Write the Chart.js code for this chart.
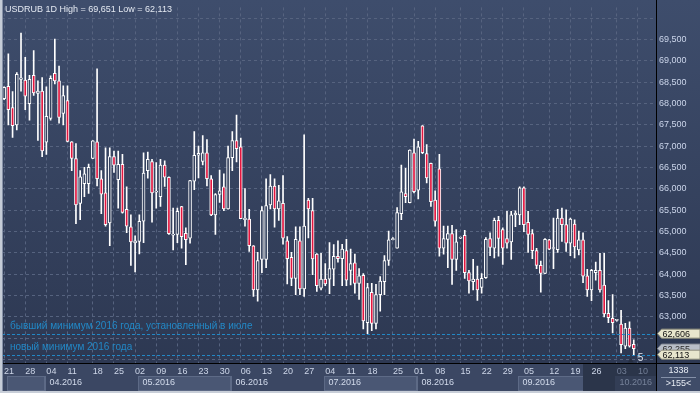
<!DOCTYPE html>
<html>
<head>
<meta charset="utf-8">
<script src="https://cdn.jsdelivr.net/npm/chart.js@4.4.0/dist/chart.umd.min.js"></script>
<style>
html,body{margin:0;padding:0;background:#34405c;}
canvas{display:block;}
</style>
</head>
<body>
<canvas id="c" width="700" height="393"></canvas>
<script>
// ---------------- DATA ----------------
const symbol = 'USDRUB 1D';
const startDate = '2016-03-21';
const endDate = '2016-10-14';            // last 5 weekdays are empty (future) slots
const extraSundays = ['2016-04-17', '2016-07-24', '2016-08-14', '2016-09-11', '2016-10-02'];

const opens = [
68110,68400,67900,67495,68560,68545,67995,68660,68235,68290,
67090,67650,68705,68530,67765,68065,67100,66710,65660,66120,
66120,66710,67100,66235,65905,65200,66755,66215,66575,65520,
65110,64735,64765,65240,66425,66640,65920,65815,66555,66270,
64915,64930,65585,64955,64840,66180,66785,66640,66845,66235,
65390,65870,66045,65530,66730,67130,66985,65275,65290,64665,
63630,64345,64345,65620,66065,65530,65660,64780,64395,63900,
64780,63655,65735,65490,64470,63670,63885,63885,64115,64420,
64360,64550,64090,64265,63785,63975,62865,63575,62845,63520,
63825,64320,64810,64610,65415,65890,65675,66845,65965,67475,
66825,66595,65735,66465,64610,64815,64950,64345,64845,64910,
64035,63825,63885,63690,63915,64835,64610,65260,65045,64835,
64755,65390,65390,66025,65215,64950,64550,64205,64015,64805,
64600,64575,65315,65160,64725,65175,64565,64805,63960,63630,
64035,64090,63745,63080,62965,62915,62830,62315,62735,62355];

const highs = [
68390,69165,68275,68720,69651,69080,68660,69240,68530,68605,
68390,68645,69510,68875,68415,68415,67105,67060,66425,66500,
66580,67130,68810,66425,66960,66960,66885,66885,66805,66045,
65390,64895,65390,66845,66860,66690,66615,66690,66655,66280,
65545,65545,65590,65085,66200,67340,67000,67245,67150,66310,
65890,66440,66350,67000,67340,67725,67190,66005,65520,64670,
64510,65585,66235,66330,66235,66080,66310,64880,64510,65110,
65110,67265,65775,65775,64480,64490,64245,64740,64690,64780,
64700,64815,64585,64470,64130,64015,63785,63785,63760,63940,
64435,65010,64855,65560,66555,66480,66910,67165,67110,67480,
67035,66600,65950,66805,65125,65125,65145,65045,64870,65025,
64090,64345,64190,64015,64855,64970,65315,65355,65085,65470,
65470,65485,66045,66045,65470,65045,64605,64305,64835,64815,
65315,65520,65545,65505,65315,65275,65010,64970,64115,64115,
64280,64490,64490,63380,63520,62940,63150,62850,62880,62460];

const lows = [
68090,67495,67205,67380,68285,67855,67610,68185,67135,66755,
66805,67610,68455,67535,67495,67100,66425,65185,65275,65815,
65890,66705,66065,65415,65125,64665,66385,65545,65430,64970,
64205,64055,64475,64740,66250,65215,65545,65585,66055,64930,
64565,64740,64610,64220,64725,65980,66255,66560,66065,65370,
64930,65680,65490,65520,66425,66630,65300,65125,64530,63480,
63365,64035,64150,65530,65100,65260,64700,63770,63730,63520,
63520,63480,64850,63990,63595,63630,63730,63540,63730,64280,
63730,63730,63745,63555,63405,62715,62606,62675,62715,63135,
63520,64205,64800,64610,65275,65675,65670,65905,65760,66825,
66140,65585,65125,64420,64470,64150,63760,64090,64830,63900,
63555,63630,63385,63555,63900,64435,64380,64420,64230,64610,
64345,65110,65160,64995,64510,64360,64130,63575,64010,64575,
64130,64510,64765,64530,64435,64380,64450,63800,63480,63380,
63860,63575,62995,62865,62620,62900,62155,62255,62290,62113];

const closes = [
68375,67855,67480,68680,68600,68170,68565,68245,68290,66885,
67700,68590,68530,67670,68185,67110,66710,65620,66280,66350,
66500,67125,66235,65875,65160,66755,66555,66575,65445,65125,
64755,64780,65240,66370,66690,65905,65935,66555,66270,64950,
64935,65470,64880,64805,66195,66785,66830,66845,66235,65390,
65865,65950,65530,66730,67130,66940,65300,65315,64665,63630,
64320,65490,65605,66065,65530,65720,64840,64360,63900,64815,
63655,65125,65530,64355,63730,63885,63770,64130,64420,64360,
64585,63860,64245,63785,63960,62905,63685,62845,63520,63840,
64320,64805,64825,65445,65930,65815,66905,65930,66985,66845,
66255,65700,65240,64610,64835,64950,64345,64755,64850,64035,
63840,63885,63630,63900,64815,64625,65260,64835,64610,64725,
65390,65430,66025,65160,64930,64550,64205,64015,64815,64585,
64615,65315,65160,64725,65290,64640,64805,63955,63630,64090,
64090,63630,63070,62980,62865,62925,62345,62735,62315,62255];

const yMin = 61918, yMax = 70250;
const yTickValues = [62000, 62500, 63000, 63500, 64000, 64500, 65000, 65500, 66000,
                     66500, 67000, 67500, 68000, 68500, 69000, 69500, 70000];
const hiddenYTicks = [62000, 62500, 70000];
const levelValues = [62606, 62113];
const levelTexts = ['бывший минимум 2016 года, установленный в июле', 'новый минимум 2016 года'];
const infoTexts = ['1338', '>155<'];
const barCountText = '5';
const shadeFromDate = '2016-09-22';

// ---------------- HELPERS ----------------
function buildDates() {
  const out = [];
  const d = new Date(startDate + 'T00:00:00Z');
  const end = new Date(endDate + 'T00:00:00Z');
  while (d <= end) {
    const iso = d.toISOString().slice(0, 10);
    const wd = d.getUTCDay();
    if ((wd >= 1 && wd <= 5) || extraSundays.includes(iso)) out.push(iso);
    d.setUTCDate(d.getUTCDate() + 1);
  }
  return out;
}
const dates = buildDates();
const isMonday = iso => new Date(iso + 'T00:00:00Z').getUTCDay() === 1;
const fmt = v => Math.round(v).toLocaleString('en-US');
const FONT = "'Liberation Sans', Arial, sans-serif";

function monthStarts() {
  const res = [];
  let last = '';
  dates.forEach((iso, i) => {
    const m = iso.slice(0, 7);
    if (m !== last) { res.push({ idx: i, label: iso.slice(5, 7) + '.' + iso.slice(0, 4) }); last = m; }
  });
  return res;
}

const bearFill = '#e3163f';
const bullFill = '#36435f';
const candleLine = '#ffffff';
const gridColor = '#56637f';
const levelColor = '#2288c6';

// ---------------- PLUGIN ----------------
function tag(ctx, py, text, fill, stroke, color) {
  const xL = 657.5, xB = 661.5, xR = 700, h = 4.5;
  ctx.beginPath();
  ctx.moveTo(xL, py); ctx.lineTo(xB, py - h); ctx.lineTo(xR, py - h);
  ctx.lineTo(xR, py + h); ctx.lineTo(xB, py + h); ctx.closePath();
  ctx.fillStyle = fill; ctx.fill();
  ctx.lineWidth = 1; ctx.strokeStyle = stroke; ctx.stroke();
  ctx.fillStyle = color; ctx.textAlign = 'left'; ctx.textBaseline = 'middle';
  ctx.font = '9px ' + FONT;
  ctx.fillText(text, 662.5, py + 0.5);
}

const mt4 = {
  id: 'mt4',
  beforeDraw(chart) {
    const { ctx, chartArea: a, scales: { x } } = chart;
    const W = chart.width, H = chart.height;
    ctx.save();
    const g = ctx.createLinearGradient(0, 0, 0, a.bottom);
    g.addColorStop(0, '#3e4d6c');
    g.addColorStop(1, '#2d3852');
    ctx.fillStyle = g;
    ctx.fillRect(0, 0, W, a.bottom);
    // bottom strip
    ctx.fillStyle = '#3b4763';
    ctx.fillRect(0, a.bottom, W, H - a.bottom);
    // month cells
    const ms = monthStarts();
    const top = Math.round(a.bottom) + 13, bot = H - 2;
    const xs = ms.map(m => Math.round(x.getPixelForValue(m.idx) + 2.5));
    ms.forEach((m, k) => {
      const x0 = xs[k];
      const x1 = k + 1 < ms.length ? xs[k + 1] : Math.round(a.right) - 1;
      if (k % 2 === 0) {
        ctx.fillStyle = '#4a5774';
        ctx.fillRect(x0, top, x1 - x0, bot - top);
        ctx.strokeStyle = '#5d6a86';
        ctx.strokeRect(x0 + 0.5, top + 0.5, x1 - x0 - 1, bot - top - 1);
      } else {
        ctx.fillStyle = '#5d6a86';
        ctx.fillRect(x0, top, 1, bot - top);
      }
    });
    // shaded current zone
    const sx = Math.round(x.getPixelForValue(dates.indexOf(shadeFromDate)));
    ctx.fillStyle = '#2b354a';
    ctx.fillRect(sx, Math.round(a.bottom) + 1, Math.round(a.right) - 1 - sx, H - Math.round(a.bottom) - 3);
    // month texts
    ctx.font = '9px ' + FONT;
    ctx.textAlign = 'left'; ctx.textBaseline = 'middle';
    ms.forEach((m, k) => {
      if (k === 0) return;
      const x0 = xs[k];
      if (x0 >= sx) {
        ctx.fillStyle = '#333e56';
        ctx.fillRect(x0, top, Math.round(a.right) - 1 - x0, bot - top);
        ctx.fillStyle = '#76829a';
      } else {
        ctx.fillStyle = '#d2dbec';
      }
      ctx.fillText(m.label, x0 + 4.5, top + 7);
    });
    ctx.restore();
  },
  afterDraw(chart) {
    const { ctx, chartArea: a, scales: { x, y } } = chart;
    const W = chart.width, H = chart.height;
    ctx.save();
    // level lines + captions
    ctx.font = '10px ' + FONT;
    ctx.textAlign = 'left'; ctx.textBaseline = 'middle';
    levelValues.forEach((v, i) => {
      const py = Math.round(y.getPixelForValue(v)) + 0.5;
      ctx.setLineDash([3, 2]);
      ctx.strokeStyle = levelColor; ctx.lineWidth = 1;
      ctx.beginPath(); ctx.moveTo(a.left, py); ctx.lineTo(a.right, py); ctx.stroke();
      ctx.setLineDash([]);
      ctx.fillStyle = levelColor;
      ctx.fillText(levelTexts[i], 10, py - 8.5);
    });
    // axis lines
    ctx.fillStyle = '#000000';
    ctx.fillRect(0, Math.round(a.bottom), W, 1);
    ctx.fillRect(Math.round(a.right) - 1, 0, 1, H);
    // price tags
    const lastClose = closes[closes.length - 1];
    tag(ctx, y.getPixelForValue(lastClose), fmt(lastClose), '#b8bdc7', '#8a8f99', '#2a2a2a');
    levelValues.forEach(v => tag(ctx, y.getPixelForValue(v), fmt(v), '#e8e6cd', '#8f8e7c', '#111111'));
    // counter + marker
    const lastX = x.getPixelForValue(closes.length - 1);
    ctx.fillStyle = '#262e40';
    ctx.beginPath();
    ctx.moveTo(lastX - 6, a.bottom - 0.5); ctx.lineTo(lastX, a.bottom - 0.5); ctx.lineTo(lastX - 3, a.bottom - 5);
    ctx.closePath(); ctx.fill();
    ctx.fillStyle = '#e4e9f2';
    ctx.font = '10px ' + FONT;
    ctx.fillText(barCountText, lastX + 4, a.bottom - 5);
    // bottom-right info box
    const bx = Math.round(a.right), by = Math.round(a.bottom) + 1;
    ctx.fillStyle = '#3f4c68';
    ctx.fillRect(bx, by, W - bx, H - by - 2);
    ctx.fillStyle = '#8490a8';
    ctx.fillRect(bx + 4, by + 13, W - bx - 8, 1);
    ctx.fillStyle = '#e6ebf3';
    ctx.font = '9px ' + FONT;
    ctx.textAlign = 'center';
    ctx.fillText(infoTexts[0], (bx + W) / 2, by + 7);
    ctx.fillText(infoTexts[1], (bx + W) / 2, by + 20);
    // title
    ctx.textAlign = 'left';
    ctx.fillStyle = '#e3e8f1';
    ctx.font = '9px ' + FONT;
    const hi = Math.max(...highs), lo = Math.min(...lows);
    ctx.fillText(symbol + ' High = ' + fmt(hi) + ' Low = ' + fmt(lo), 5, 9.5);
    // frame
    ctx.fillStyle = '#c5ccd7';
    ctx.fillRect(0, 0, 2, H);
    ctx.fillStyle = '#8792a8';
    ctx.fillRect(2, 0, 1, H);
    ctx.fillStyle = '#c8ced8';
    ctx.fillRect(0, H - 2, W, 2);
    ctx.restore();
  }
};

// ---------------- CHART ----------------
new Chart(document.getElementById('c'), {
  type: 'bar',
  data: {
    labels: dates,
    datasets: [
      {
        label: 'range',
        data: lows.map((l, i) => [l, highs[i]]),
        backgroundColor: candleLine,
        barThickness: 1,
        grouped: false,
        order: 2
      },
      {
        label: 'body',
        data: opens.map((o, i) => [o, closes[i]]),
        backgroundColor: opens.map((o, i) => closes[i] < o ? bearFill : bullFill),
        borderColor: candleLine,
        borderWidth: 1,
        borderSkipped: false,
        barThickness: 3,
        minBarLength: 1,
        grouped: false,
        order: 1
      }
    ]
  },
  options: {
    responsive: false,
    animation: false,
    events: [],
    layout: { padding: { left: 2, right: 0, top: 0, bottom: 0 } },
    plugins: { legend: { display: false }, tooltip: { enabled: false } },
    scales: {
      x: {
        type: 'category',
        offset: true,
        grid: {
          offset: false,
          drawTicks: false,
          color: c => (c.index < dates.length && isMonday(dates[c.index])) ? gridColor : 'rgba(0,0,0,0)'
        },
        border: { display: false, dash: [3, 3] },
        ticks: {
          autoSkip: false,
          maxRotation: 0,
          minRotation: 0,
          align: 'start',
          padding: 3,
          font: { family: FONT, size: 9 },
          color: c => c.index >= 145 ? '#727e96' : '#cdd6e8',
          callback: function (value, index) {
            const iso = dates[index];
            return isMonday(iso) ? iso.slice(8, 10) : '';
          }
        },
        afterFit: s => { s.height = 30; }
      },
      y: {
        type: 'linear',
        position: 'right',
        min: yMin,
        max: yMax,
        afterBuildTicks: s => { s.ticks = yTickValues.map(v => ({ value: v })); },
        grid: { drawTicks: false, color: gridColor },
        border: { display: false, dash: [3, 3] },
        ticks: {
          autoSkip: false,
          padding: 2,
          font: { family: FONT, size: 9 },
          color: '#cbd5ea',
          callback: v => hiddenYTicks.includes(v) ? '' : fmt(v)
        },
        afterFit: s => { s.width = 43; }
      }
    }
  },
  plugins: [mt4]
});
</script>
</body>
</html>
